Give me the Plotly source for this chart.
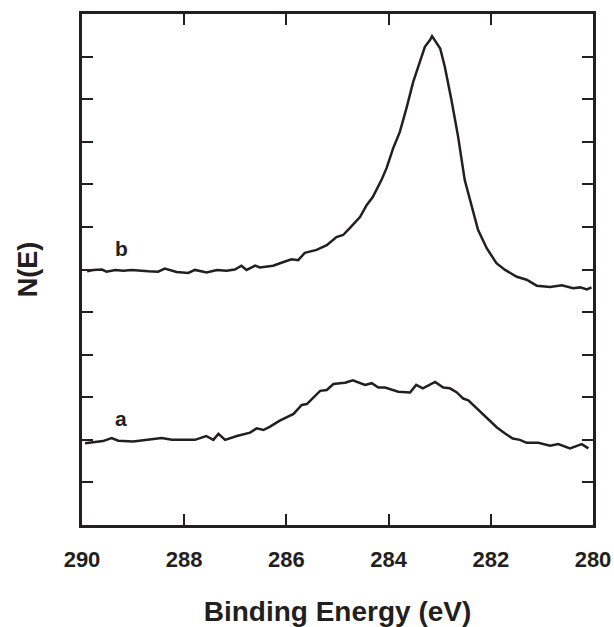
import plotly.graph_objects as go

# Spectrum b (binding energy in eV, intensity in arbitrary units)
energy_b = [289.90, 289.78, 289.61, 289.52, 289.35, 289.19, 289.03, 288.87, 288.70, 288.51,
            288.38, 288.15, 287.92, 287.79, 287.56, 287.36, 287.17, 287.01, 286.88, 286.78,
            286.61, 286.52, 286.26, 286.07, 285.90, 285.77, 285.64, 285.41, 285.21, 285.02,
            284.89, 284.76, 284.56, 284.43, 284.31, 284.14, 284.04, 283.91, 283.78, 283.65,
            283.52, 283.39, 283.29, 283.19, 283.15, 282.99, 282.90, 282.77, 282.64, 282.51,
            282.37, 282.25, 282.08, 281.89, 281.72, 281.49, 281.30, 281.10, 280.84, 280.61,
            280.39, 280.25, 280.12, 280.03]
intensity_b = [5.96, 5.99, 6.00, 5.95, 5.99, 5.97, 5.99, 5.97, 5.96, 5.95,
               6.02, 5.94, 5.92, 5.99, 5.93, 5.99, 5.97, 6.00, 6.09, 5.99,
               6.09, 6.05, 6.09, 6.17, 6.24, 6.22, 6.39, 6.46, 6.57, 6.76,
               6.81, 6.97, 7.23, 7.51, 7.70, 8.10, 8.38, 8.85, 9.23, 9.79,
               10.40, 10.87, 11.23, 11.39, 11.48, 11.19, 10.76, 9.98, 9.12, 8.10,
               7.47, 6.93, 6.50, 6.15, 5.99, 5.83, 5.76, 5.62, 5.59, 5.63,
               5.56, 5.58, 5.53, 5.58]

# Spectrum a
energy_a = [289.94, 289.59, 289.42, 289.29, 289.00, 288.73, 288.44, 288.24, 287.79, 287.57,
            287.43, 287.33, 287.20, 286.97, 286.71, 286.58, 286.45, 286.32, 286.13, 285.86,
            285.70, 285.60, 285.34, 285.21, 285.08, 284.95, 284.85, 284.70, 284.46, 284.33,
            284.20, 284.07, 283.81, 283.58, 283.46, 283.33, 283.09, 282.93, 282.80, 282.67,
            282.54, 282.44, 282.28, 282.08, 281.88, 281.72, 281.57, 281.43, 281.30, 281.07,
            280.84, 280.68, 280.45, 280.22, 280.09]
intensity_a = [1.92, 1.97, 2.04, 1.98, 1.96, 2.00, 2.04, 2.00, 2.00, 2.09,
               2.00, 2.14, 2.00, 2.09, 2.17, 2.27, 2.23, 2.31, 2.45, 2.61,
               2.82, 2.84, 3.15, 3.17, 3.31, 3.33, 3.34, 3.40, 3.29, 3.33,
               3.23, 3.23, 3.13, 3.11, 3.29, 3.21, 3.36, 3.23, 3.21, 3.12,
               2.97, 2.93, 2.75, 2.53, 2.29, 2.15, 2.03, 2.00, 1.93, 1.93,
               1.86, 1.90, 1.80, 1.90, 1.80]

x_ticks = [290, 288, 286, 284, 282, 280]
x_tick_labels = ["<b>290</b>", "<b>288</b>", "<b>286</b>", "<b>284</b>", "<b>282</b>", "<b>280</b>"]
curve_labels = ["a", "b"]
label_energy = [289.24, 289.22]
label_intensity = [2.51, 6.50]

ink = "#231f20"
font_family = "Liberation Sans, Arial, Helvetica, sans-serif"

fig = go.Figure()
fig.add_trace(go.Scatter(x=energy_a, y=intensity_a, mode="lines",
                         line=dict(color=ink, width=2.5), showlegend=False))
fig.add_trace(go.Scatter(x=energy_b, y=intensity_b, mode="lines",
                         line=dict(color=ink, width=2.5), showlegend=False))

for lab, ex, iy in zip(curve_labels, label_energy, label_intensity):
    fig.add_annotation(x=ex, y=iy, xref="x", yref="y", text="<b>" + lab + "</b>", showarrow=False,
                       font=dict(family=font_family, size=21, color=ink))

fig.update_layout(
    width=614, height=627,
    margin=dict(l=82, r=21, t=14, b=102, autoexpand=False),
    paper_bgcolor="white", plot_bgcolor="white",
    font=dict(family=font_family, color=ink),
)
fig.update_xaxes(
    range=[290, 280], tickvals=x_ticks, ticktext=x_tick_labels,
    ticks="inside", ticklen=11, tickwidth=2, tickcolor=ink,
    showline=True, linewidth=2.5, linecolor=ink, mirror="ticks",
    showgrid=False, zeroline=False, automargin=False,
    tickfont=dict(family=font_family, size=22, color=ink),
    ticklabelstandoff=13,
    title=dict(text="<b>Binding Energy (eV)</b>", standoff=36,
               font=dict(family=font_family, size=28, color=ink)),
)
fig.update_yaxes(
    range=[0, 12], dtick=1, tick0=0,
    ticks="inside", ticklen=11, tickwidth=2, tickcolor=ink,
    showline=True, linewidth=2.5, linecolor=ink, mirror="ticks",
    showgrid=False, zeroline=False, showticklabels=False, automargin=False,
    title=dict(text="<b>N(E)</b>", standoff=34,
               font=dict(family=font_family, size=27, color=ink)),
)

# remove the default page margin so the figure fills the window exactly
fig.write_html("out.html", config={"displayModeBar": False},
               post_script="document.body.style.margin='0';document.body.style.overflow='hidden';")
